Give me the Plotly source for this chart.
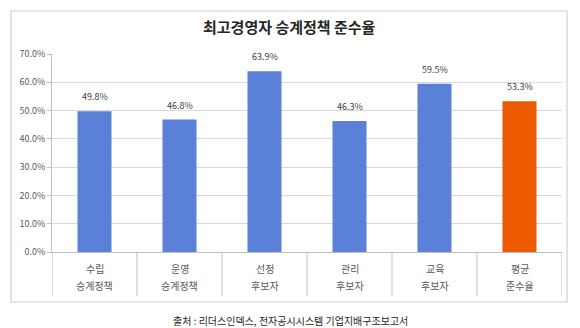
import plotly.graph_objects as go

categories = ["수립 승계정책", "운영 승계정책", "선정 후보자", "관리 후보자", "교육 후보자", "평균 준수율"]
values = [49.8, 46.8, 63.9, 46.3, 59.5, 53.3]
bar_colors = ["#5B80D8", "#5B80D8", "#5B80D8", "#5B80D8", "#5B80D8", "#EB5A00"]
y_ticks = [0, 10, 20, 30, 40, 50, 60, 70]
title_text = "최고경영자 승계정책 준수율"
source_text = "출처 : 리더스인덱스, 전자공시시스템 기업지배구조보고서"

FONT = "Noto Sans CJK KR"
idx = list(range(len(categories)))

fig = go.Figure()
fig.add_trace(go.Bar(
    x=idx, y=values, marker=dict(color=bar_colors, line=dict(width=0)),
    width=0.4, hoverinfo="skip"))

annotations = []
for i, v in zip(idx, values):
    annotations.append(dict(x=i, y=v, xref="x", yref="y", text=f"{v:.1f}%",
                            showarrow=False, yanchor="bottom", yshift=6,
                            font=dict(family=FONT, size=9, color="#404040")))
for i, c in zip(idx, categories):
    l1, l2 = c.split(" ")
    annotations.append(dict(x=i, y=-16 / 198, xref="x", yref="paper", text=l1,
                            showarrow=False, yanchor="middle",
                            font=dict(family=FONT, size=10, color="#595959")))
    annotations.append(dict(x=i, y=-33 / 198, xref="x", yref="paper", text=l2,
                            showarrow=False, yanchor="middle",
                            font=dict(family=FONT, size=10, color="#595959")))
annotations.append(dict(x=(289 - 52) / 510, y=(252 - 27) / 198, xref="paper", yref="paper",
                        text=f"<b>{title_text}</b>",
                        showarrow=False, yanchor="middle", xanchor="center",
                        font=dict(family=FONT, size=15, color="#262626")))
annotations.append(dict(x=(290 - 52) / 510, y=-(320 - 252) / 198, xref="paper", yref="paper",
                        text=source_text, showarrow=False, yanchor="middle", xanchor="center",
                        font=dict(family=FONT, size=10, color="#262626")))

shapes = [dict(type="rect", xref="paper", yref="paper",
               x0=(11 - 52) / 510, x1=(567 - 52) / 510,
               y0=(252 - 302) / 198, y1=(252 - 11) / 198,
               line=dict(color="#D0D0D0", width=1.2), layer="below")]
for k in range(len(categories) + 1):
    shapes.append(dict(type="line", xref="x", yref="paper", x0=k - 0.5, x1=k - 0.5,
                       y0=0, y1=-44 / 198, line=dict(color="#BFBFBF", width=1)))

fig.update_layout(
    width=580, height=328,
    margin=dict(l=52, r=18, t=54, b=76),
    paper_bgcolor="white", plot_bgcolor="white",
    showlegend=False,
    annotations=annotations, shapes=shapes,
    xaxis=dict(range=[-0.5, len(categories) - 0.5], showticklabels=False, showgrid=False,
               zeroline=False, showline=True, linecolor="#BFBFBF", ticks=""),
    yaxis=dict(range=[0, 70], tickvals=y_ticks,
               ticktext=[f"{t:.1f}%" for t in y_ticks],
               showgrid=True, gridcolor="#D9D9D9", gridwidth=1,
               zeroline=False, showline=True, linecolor="#BFBFBF",
               ticks="outside", ticklen=4, tickcolor="#BFBFBF",
               tickfont=dict(family=FONT, size=9, color="#595959")),
)

fig.write_html("out.html")
